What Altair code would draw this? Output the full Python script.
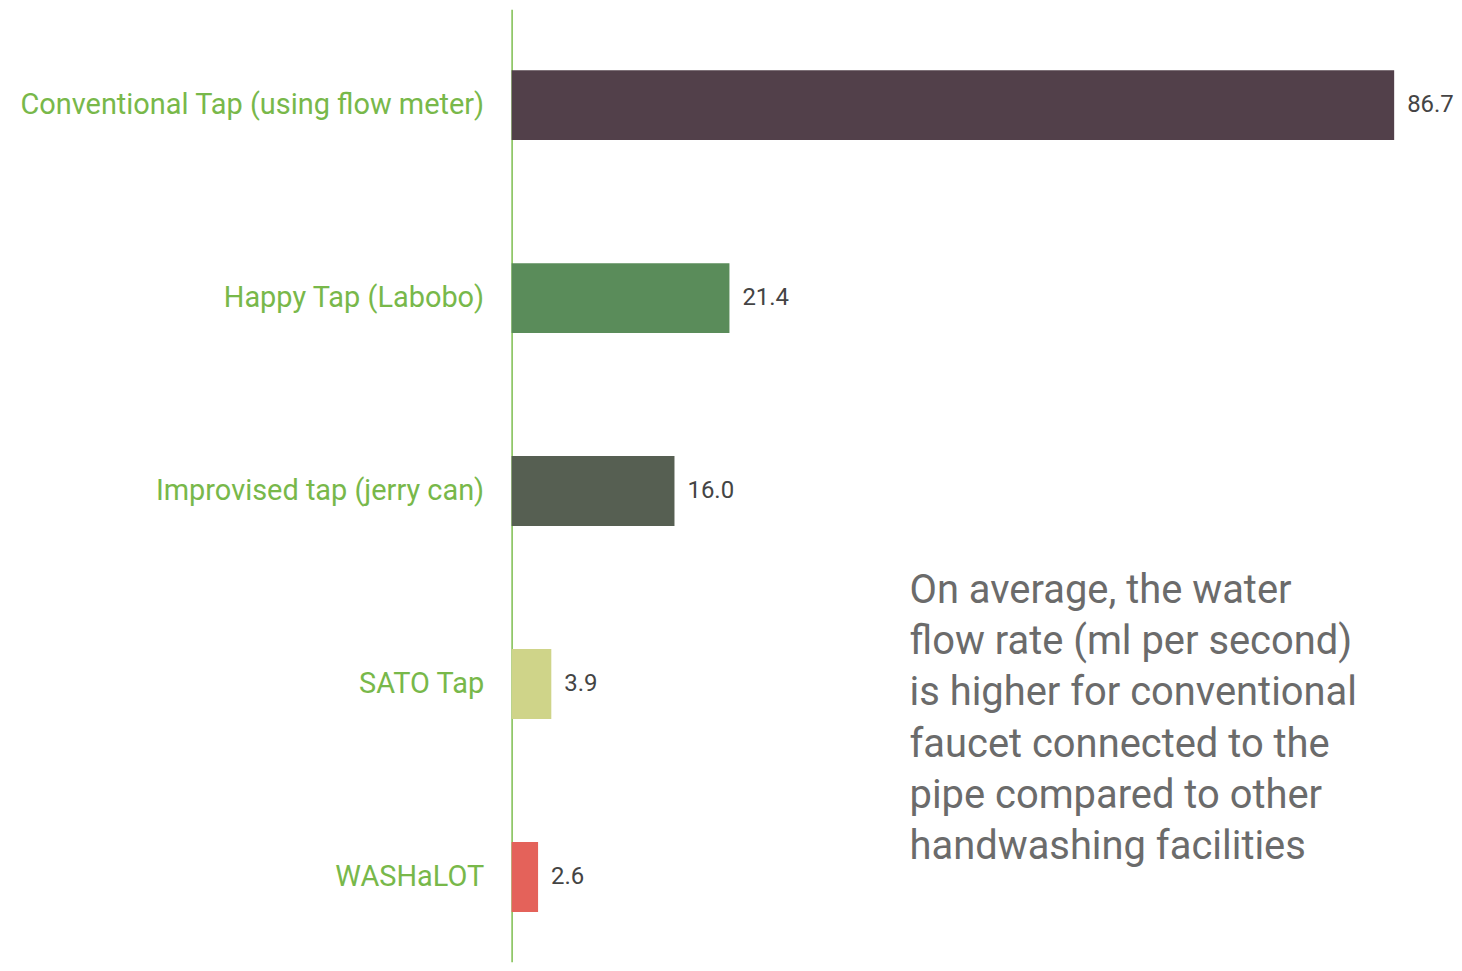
import altair as alt
import pandas as pd

categories = [
    "Conventional Tap (using flow meter)",
    "Happy Tap (Labobo)",
    "Improvised tap (jerry can)",
    "SATO Tap",
    "WASHaLOT",
]
values = [86.7, 21.4, 16.0, 3.9, 2.6]
colors = ["#52404A", "#5A8C5A", "#565F52", "#CFD489", "#E4625A"]
note_lines = [
    "On average, the water",
    "flow rate (ml per second)",
    "is higher for conventional",
    "faucet connected to the",
    "pipe compared to other",
    "handwashing facilities",
]

FONT = "Roboto"

df = pd.DataFrame({"cat": categories, "val": values, "color": colors})
df["label"] = df["val"].map(lambda v: f"{v:.1f}")

y_enc = alt.Y(
    "cat:N",
    sort=categories,
    title=None,
    scale=alt.Scale(paddingInner=0.638, paddingOuter=0.2866, align=0.55),
    axis=alt.Axis(
        ticks=False,
        domainColor="#7DBE4E",
        domainWidth=1.5,
        labelColor="#78B84A",
        labelFont=FONT,
        labelFontSize=29,
        labelPadding=28,
        labelLimit=600,
        grid=False,
    ),
)
x_enc = alt.X(
    "val:Q",
    title=None,
    scale=alt.Scale(domain=[0, 86.7], nice=False, zero=True),
    axis=None,
)

base = alt.Chart(df)
bars = base.mark_bar().encode(
    x=x_enc, y=y_enc, color=alt.Color("color:N", scale=None)
)
labels = base.mark_text(
    align="left", baseline="middle", dx=13, font=FONT, fontSize=24, color="#444444"
).encode(x=x_enc, y=y_enc, text="label:N")

note = alt.Chart(pd.DataFrame({"a": [0]})).mark_text(
    align="left",
    baseline="alphabetic",
    font=FONT,
    fontSize=40,
    lineHeight=51.5,
    color="#6B6B6B",
).encode(
    x=alt.value(399),
    y=alt.value(595),
    text=alt.value(note_lines),
)

chart = (
    alt.layer(bars, labels, note)
    .properties(
        width=885,
        height=955,
        padding={"left": 11, "top": 0, "right": 0, "bottom": 0},
        view=alt.ViewBackground(stroke="transparent", strokeWidth=0),
    )
    .configure_view(strokeWidth=0, stroke="transparent")
    .configure(background="white")
)

chart.save("out.html", embed_options={"renderer": "svg", "actions": False})
